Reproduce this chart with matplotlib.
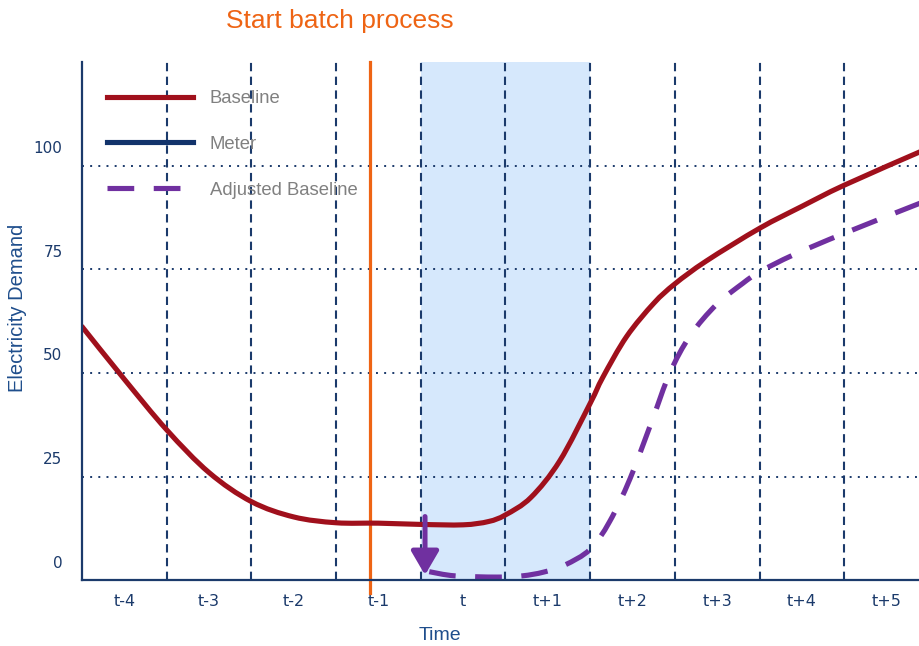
import numpy as np
import matplotlib
matplotlib.use('Agg')
import matplotlib.pyplot as plt
import matplotlib.transforms as mtransforms
from matplotlib.path import Path
from matplotlib.patches import PathPatch

# --- data ---
x_labels = ['t-4', 't-3', 't-2', 't-1', 't', 't+1', 't+2', 't+3', 't+4', 't+5']
y_ticks = [0, 25, 50, 75, 100]

baseline_x = [0.0, 0.5, 1.0, 1.5, 2.0, 2.5, 3.0, 3.5, 4.0, 4.5, 4.8, 5.0, 5.3,
              5.64, 6.0, 6.15, 6.43, 6.75, 7.0, 7.37, 8.0, 8.5, 9.0, 9.9]
baseline_y = [61.2, 48.5, 36.3, 26.0, 19.0, 15.3, 13.9, 13.8, 13.5, 13.4, 14.2, 15.8, 20.0,
              28.8, 42.7, 49.0, 58.8, 66.8, 71.5, 77.0, 84.9, 90.2, 95.3, 103.4]

adjusted_x = [4.1, 4.4, 4.9, 5.2, 5.45, 5.7, 6.0, 6.23, 6.47, 6.73, 6.94, 7.18, 7.49,
              7.8, 8.0, 8.4, 9.0, 9.9]
adjusted_y = [2.1, 1.1, 0.8, 1.1, 2.0, 3.7, 7.5, 14.2, 24.5, 38.5, 50.0, 59.0, 66.5,
              71.6, 74.4, 78.5, 83.7, 91.0]

batch_start = 3.4
shade_span = (4.0, 6.0)
arrow_x = 4.05
arrow_from, arrow_to = 15.4, 1.3

# --- colours ---
NAVY = '#1b3a6b'
LABEL_BLUE = '#1f4e8c'
RED = '#a0101c'
PURPLE = '#7030a0'
ORANGE = '#ee6414'
SHADE = '#d6e8fc'


def smooth_path(xs, ys):
    # Catmull-Rom curve through the points, drawn as cubic Bezier segments
    p = np.column_stack([xs, ys]).astype(float)
    ext = np.vstack([p[0], p, p[-1]])
    verts = [p[0]]
    codes = [Path.MOVETO]
    for i in range(len(p) - 1):
        p0, p1, p2, p3 = ext[i], ext[i + 1], ext[i + 2], ext[i + 3]
        verts += [p1 + (p2 - p0) / 6, p2 - (p3 - p1) / 6, p2]
        codes += [Path.CURVE4] * 3
    return Path(verts, codes)


fig = plt.figure(figsize=(9.2, 6.46), dpi=100)
ax = fig.add_axes([82 / 920, 1 - 580.4 / 646, 1 - 82 / 920, 518.4 / 646])

ax.set_xlim(0, 9.894)
ax.set_ylim(0, 125)

ax.axvspan(*shade_span, color=SHADE, zorder=0, lw=0)

# grid
ax.set_yticks(y_ticks)
ax.set_xticks(np.arange(len(x_labels)) + 0.5)
ax.set_xticklabels(x_labels)
ax.set_xticks(np.arange(1, len(x_labels)), minor=True)
ax.grid(axis='y', which='major', color=NAVY, lw=1.4, linestyle=(0, (1, 3.2)), zorder=1)
ax.grid(axis='x', which='minor', color=NAVY, lw=1.5, linestyle=(0, (4, 2.6)), zorder=1)
ax.grid(axis='x', which='major', visible=False)
ax.set_axisbelow(True)

ax.axvline(batch_start, ymin=-3 / 125, ymax=1, color=ORANGE, lw=2.3, clip_on=False, zorder=2)

ax.add_patch(PathPatch(smooth_path(baseline_x, baseline_y), fill=False, edgecolor=RED,
                       lw=3.7, capstyle='round', joinstyle='round', zorder=4))
ax.add_patch(PathPatch(smooth_path(adjusted_x, adjusted_y), fill=False, edgecolor=PURPLE,
                       lw=3.7, linestyle=(0, (5.2, 3.8)), capstyle='butt', zorder=4))

# legend handles
ax.plot([], [], color=RED, lw=3.7, label='Baseline')
ax.plot([], [], color='#12336b', lw=3.7, label='Meter')
ax.plot([], [], color=PURPLE, lw=3.7, dashes=(5.2, 3.8), dash_capstyle='butt',
        label='Adjusted Baseline')

ax.annotate('', xy=(arrow_x, arrow_to), xytext=(arrow_x, arrow_from),
            arrowprops=dict(arrowstyle='-|>,head_length=0.72,head_width=0.42',
                            mutation_scale=20, color=PURPLE, lw=3.6,
                            shrinkA=0, shrinkB=0), zorder=5)

# spines
for s in ['top', 'right']:
    ax.spines[s].set_visible(False)
for s in ['left', 'bottom']:
    ax.spines[s].set_color(NAVY)
    ax.spines[s].set_linewidth(1.6)
    ax.spines[s].set_zorder(6)

ax.tick_params(axis='both', which='both', length=0)
ax.tick_params(axis='x', pad=10, labelsize=11.5, labelcolor=NAVY)
ax.tick_params(axis='y', pad=14, labelsize=11, labelcolor=NAVY)
shift = mtransforms.ScaledTranslation(0, 18.7 / 100, fig.dpi_scale_trans)
for lab in ax.get_yticklabels():
    lab.set_transform(lab.get_transform() + shift)

ax.set_xlabel('Time', fontsize=14, color=LABEL_BLUE, family='Liberation Sans')
ax.xaxis.set_label_coords((440 - 82) / 838, (580.4 - 635) / 518.4)
ax.xaxis.label.set_va('center')
ax.set_ylabel('Electricity Demand', fontsize=14.5, color=LABEL_BLUE, family='Liberation Sans')
ax.yaxis.set_label_coords((18 - 82) / 838, (580.4 - 308) / 518.4)
ax.yaxis.label.set_va('center')

leg = ax.legend(loc='upper left', bbox_to_anchor=(25 / 838, (580.4 - 90) / 518.4),
                frameon=False, borderpad=0, borderaxespad=0,
                handlelength=4.65, handletextpad=0.92, labelspacing=1.56,
                prop={'family': 'Liberation Sans', 'size': 13.3})
for t in leg.get_texts():
    t.set_color('#808080')

fig.text(340 / 920, 1 - 21 / 646, 'Start batch process', color=ORANGE, fontsize=19,
         family='Liberation Sans', ha='center', va='center')

fig.savefig('out.png', dpi=100)
